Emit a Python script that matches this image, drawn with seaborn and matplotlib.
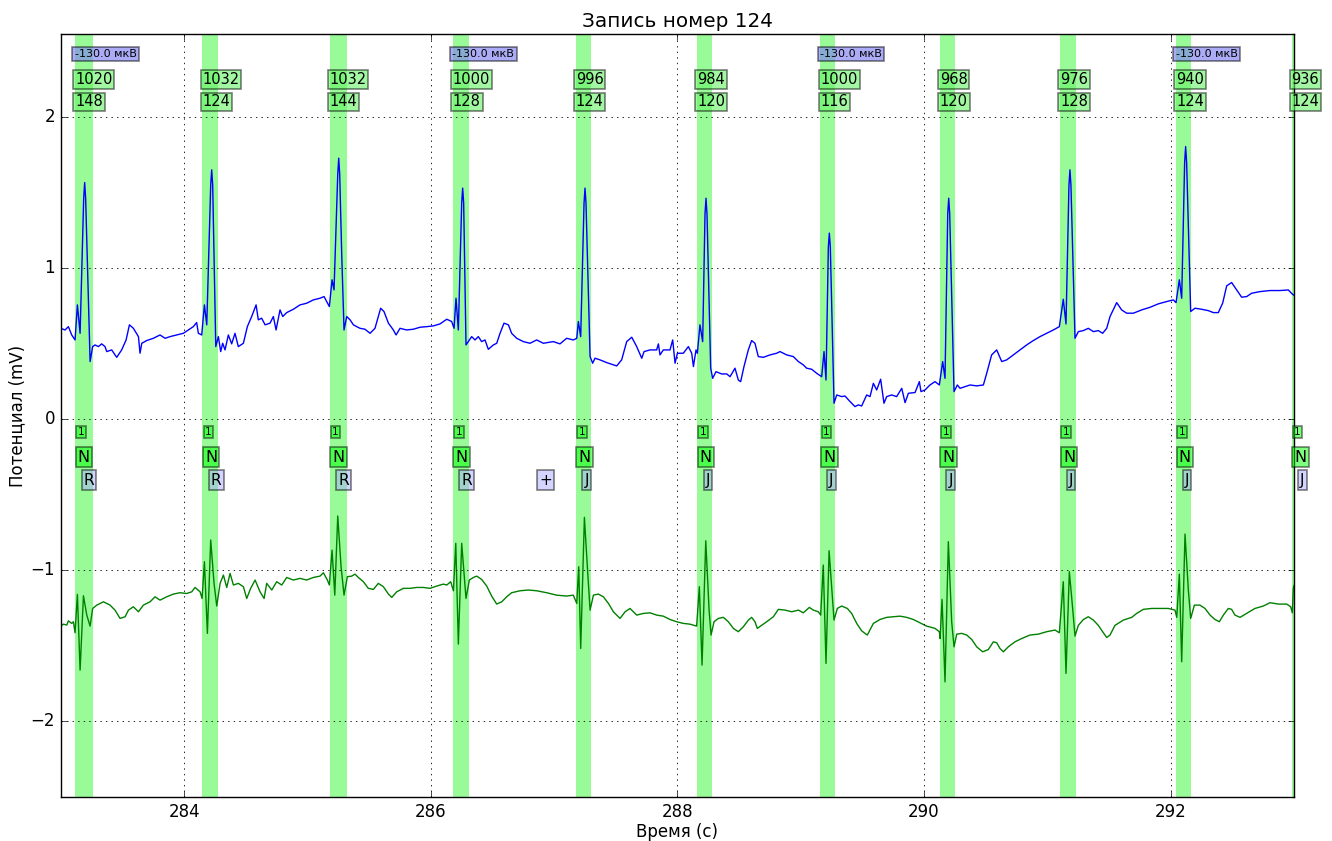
import matplotlib
matplotlib.use("Agg")
import matplotlib.pyplot as plt
import seaborn as sns
import pandas as pd

# ---- beat annotations -------------------------------------------------------
beat_onsets = [283.116, 284.148, 285.180, 286.180, 287.176, 288.160,
               289.160, 290.128, 291.104, 292.044, 292.980]
rr_ms = [1020, 1032, 1032, 1000, 996, 984, 1000, 968, 976, 940, 936]
qrs_ms = [148, 124, 144, 128, 124, 120, 116, 120, 128, 124, 124]
beat_codes = ["1"] * 11
beat_types = ["N"] * 11
rhythm_marks = ["R", "R", "R", "R", "J", "J", "J", "J", "J", "J", "J"]
amp_beats = [0, 3, 6, 9]
amp_text = "-130.0 мкВ"
extra_marks = [(286.882, "+")]

# ---- lead 1 (upper trace), seconds / mV ------------------------------------
lead1_t = [
    283.000, 283.035, 283.062, 283.089, 283.116, 283.135, 283.157, 283.194, 283.238, 283.259,
    283.278, 283.305, 283.332, 283.359, 283.373, 283.413, 283.454, 283.494, 283.530, 283.557,
    283.589, 283.630, 283.643, 283.657, 283.697, 283.751, 283.805, 283.846, 283.886, 283.940,
    283.994, 284.035, 284.075, 284.102, 284.116, 284.143, 284.165, 284.184, 284.224, 284.257,
    284.278, 284.297, 284.313, 284.332, 284.359, 284.386, 284.413, 284.440, 284.481, 284.513,
    284.548, 284.584, 284.602, 284.629, 284.657, 284.697, 284.724, 284.746, 284.778, 284.800,
    284.832, 284.886, 284.940, 284.994, 285.048, 285.102, 285.135, 285.157, 285.178, 285.200,
    285.216, 285.254, 285.278, 285.297, 285.319, 285.346, 285.373, 285.400, 285.427, 285.467,
    285.508, 285.548, 285.575, 285.594, 285.621, 285.657, 285.697, 285.719, 285.751, 285.805,
    285.859, 285.913, 285.967, 286.021, 286.075, 286.130, 286.170, 286.189, 286.205, 286.224,
    286.259, 286.286, 286.313, 286.332, 286.359, 286.386, 286.413, 286.440, 286.467, 286.508,
    286.535, 286.562, 286.594, 286.630, 286.656, 286.697, 286.751, 286.805, 286.859, 286.913,
    286.994, 287.048, 287.102, 287.156, 287.184, 287.197, 287.216, 287.251, 287.292, 287.313,
    287.332, 287.373, 287.427, 287.481, 287.508, 287.548, 287.589, 287.630, 287.670, 287.711,
    287.730, 287.778, 287.832, 287.846, 287.859, 287.886, 287.940, 287.962, 287.981, 288.000,
    288.048, 288.089, 288.116, 288.130, 288.151, 288.162, 288.183, 288.205, 288.232, 288.270,
    288.286, 288.313, 288.359, 288.400, 288.427, 288.467, 288.494, 288.513, 288.540, 288.575,
    288.602, 288.629, 288.656, 288.697, 288.751, 288.805, 288.832, 288.886, 288.940, 288.981,
    289.021, 289.048, 289.089, 289.130, 289.170, 289.189, 289.205, 289.232, 289.270, 289.292,
    289.332, 289.359, 289.400, 289.440, 289.467, 289.494, 289.535, 289.562, 289.589, 289.616,
    289.648, 289.675, 289.697, 289.738, 289.778, 289.819, 289.846, 289.873, 289.927, 289.962,
    289.975, 290.008, 290.048, 290.089, 290.124, 290.151, 290.170, 290.200, 290.243, 290.270,
    290.292, 290.332, 290.373, 290.427, 290.481, 290.508, 290.548, 290.589, 290.630, 290.670,
    290.724, 290.778, 290.832, 290.886, 290.940, 290.994, 291.048, 291.097, 291.129, 291.151,
    291.183, 291.224, 291.251, 291.292, 291.332, 291.373, 291.413, 291.448, 291.481, 291.508,
    291.562, 291.602, 291.643, 291.697, 291.765, 291.832, 291.900, 291.967, 292.021, 292.043,
    292.070, 292.089, 292.121, 292.162, 292.197, 292.251, 292.305, 292.346, 292.386, 292.421,
    292.454, 292.494, 292.535, 292.575, 292.616, 292.656, 292.724, 292.805, 292.886, 292.954,
    292.984, 293.000,
]
lead1_mv = [
    0.602, 0.591, 0.613, 0.558, 0.525, 0.757, 0.569, 1.567, 0.382, 0.481,
    0.492, 0.481, 0.499, 0.481, 0.448, 0.459, 0.410, 0.459, 0.525, 0.625,
    0.602, 0.547, 0.437, 0.503, 0.521, 0.536, 0.558, 0.536, 0.547, 0.558,
    0.569, 0.591, 0.613, 0.640, 0.569, 0.558, 0.757, 0.625, 1.651, 0.481,
    0.547, 0.448, 0.503, 0.459, 0.558, 0.499, 0.569, 0.481, 0.503, 0.613,
    0.680, 0.757, 0.658, 0.669, 0.625, 0.636, 0.680, 0.591, 0.724, 0.680,
    0.706, 0.728, 0.757, 0.768, 0.790, 0.801, 0.812, 0.779, 0.746, 0.923,
    0.856, 1.728, 1.099, 0.591, 0.680, 0.658, 0.625, 0.613, 0.602, 0.596,
    0.569, 0.602, 0.680, 0.735, 0.713, 0.636, 0.591, 0.558, 0.602, 0.591,
    0.596, 0.609, 0.613, 0.618, 0.631, 0.662, 0.647, 0.602, 0.801, 0.591,
    1.530, 0.492, 0.525, 0.547, 0.525, 0.547, 0.514, 0.525, 0.463, 0.492,
    0.503, 0.569, 0.636, 0.625, 0.569, 0.536, 0.514, 0.503, 0.525, 0.503,
    0.514, 0.499, 0.536, 0.525, 0.536, 0.647, 0.547, 1.530, 0.415, 0.371,
    0.404, 0.393, 0.375, 0.360, 0.353, 0.393, 0.514, 0.543, 0.481, 0.404,
    0.448, 0.459, 0.459, 0.499, 0.426, 0.459, 0.459, 0.525, 0.371, 0.437,
    0.437, 0.481, 0.437, 0.349, 0.459, 0.437, 0.625, 0.514, 1.463, 0.338,
    0.271, 0.315, 0.300, 0.300, 0.282, 0.338, 0.260, 0.249, 0.349, 0.459,
    0.521, 0.503, 0.415, 0.410, 0.426, 0.437, 0.448, 0.426, 0.415, 0.382,
    0.360, 0.338, 0.331, 0.304, 0.282, 0.448, 0.260, 1.232, 0.106, 0.161,
    0.150, 0.154, 0.117, 0.084, 0.095, 0.088, 0.161, 0.150, 0.238, 0.194,
    0.265, 0.106, 0.150, 0.161, 0.150, 0.205, 0.110, 0.172, 0.177, 0.249,
    0.183, 0.194, 0.227, 0.249, 0.227, 0.382, 0.271, 1.463, 0.183, 0.227,
    0.205, 0.216, 0.227, 0.221, 0.227, 0.304, 0.426, 0.459, 0.382, 0.393,
    0.426, 0.459, 0.492, 0.521, 0.547, 0.569, 0.591, 0.613, 0.794, 0.631,
    1.651, 0.536, 0.580, 0.587, 0.602, 0.580, 0.587, 0.569, 0.602, 0.680,
    0.772, 0.724, 0.702, 0.702, 0.724, 0.741, 0.764, 0.779, 0.790, 0.772,
    0.923, 0.801, 1.805, 0.713, 0.735, 0.728, 0.719, 0.706, 0.706, 0.768,
    0.883, 0.905, 0.856, 0.808, 0.812, 0.834, 0.845, 0.852, 0.852, 0.856,
    0.830, 0.820,
]
# rounded shoulders either side of each R-wave crest of lead 1
lead1_crest_t = [283.186, 283.202, 284.216, 284.232, 285.246, 285.262, 286.251, 286.267,
                 287.243, 287.259, 288.224, 288.240, 289.224, 289.240, 290.192, 290.208,
                 291.175, 291.191, 292.113, 292.129]
lead1_crest_mv = [1.46, 1.46, 1.55, 1.55, 1.62, 1.62, 1.43, 1.43,
                  1.43, 1.43, 1.36, 1.36, 1.14, 1.14, 1.36, 1.36,
                  1.55, 1.55, 1.70, 1.70]

# ---- lead 2 (lower trace), seconds / mV ------------------------------------
lead2_t = [
    283.000, 283.021, 283.049, 283.062, 283.089, 283.103, 283.116, 283.135, 283.157, 283.184,
    283.211, 283.238, 283.259, 283.292, 283.346, 283.400, 283.440, 283.481, 283.522, 283.549,
    283.589, 283.630, 283.670, 283.724, 283.765, 283.805, 283.859, 283.913, 283.967, 284.021,
    284.062, 284.089, 284.130, 284.146, 284.165, 284.189, 284.216, 284.243, 284.265, 284.292,
    284.319, 284.346, 284.373, 284.400, 284.440, 284.481, 284.508, 284.540, 284.576, 284.616,
    284.649, 284.670, 284.711, 284.751, 284.792, 284.832, 284.886, 284.940, 284.994, 285.048,
    285.102, 285.130, 285.162, 285.178, 285.200, 285.222, 285.246, 285.273, 285.297, 285.324,
    285.359, 285.386, 285.413, 285.454, 285.494, 285.535, 285.575, 285.616, 285.657, 285.684,
    285.724, 285.778, 285.832, 285.886, 285.940, 285.994, 286.048, 286.102, 286.130, 286.162,
    286.184, 286.203, 286.224, 286.251, 286.286, 286.313, 286.346, 286.373, 286.413, 286.454,
    286.494, 286.535, 286.576, 286.616, 286.656, 286.724, 286.792, 286.859, 286.940, 287.021,
    287.102, 287.156, 287.184, 287.200, 287.216, 287.246, 287.270, 287.292, 287.319, 287.359,
    287.400, 287.441, 287.481, 287.535, 287.576, 287.616, 287.670, 287.724, 287.778, 287.832,
    287.886, 287.940, 287.994, 288.048, 288.102, 288.156, 288.178, 288.200, 288.230, 288.257,
    288.273, 288.297, 288.332, 288.373, 288.413, 288.454, 288.494, 288.535, 288.576, 288.602,
    288.629, 288.648, 288.683, 288.724, 288.778, 288.819, 288.873, 288.927, 288.981, 289.021,
    289.070, 289.102, 289.143, 289.162, 289.183, 289.205, 289.230, 289.270, 289.297, 289.332,
    289.378, 289.413, 289.454, 289.494, 289.521, 289.540, 289.589, 289.643, 289.697, 289.751,
    289.805, 289.859, 289.913, 289.967, 290.021, 290.089, 290.124, 290.130, 290.146, 290.170,
    290.197, 290.224, 290.243, 290.265, 290.305, 290.346, 290.386, 290.427, 290.475, 290.521,
    290.562, 290.589, 290.616, 290.643, 290.683, 290.737, 290.792, 290.859, 290.927, 290.994,
    291.062, 291.097, 291.129, 291.151, 291.178, 291.205, 291.224, 291.251, 291.292, 291.332,
    291.373, 291.413, 291.448, 291.481, 291.508, 291.548, 291.616, 291.684, 291.724, 291.778,
    291.846, 291.913, 291.981, 292.035, 292.049, 292.070, 292.089, 292.116, 292.143, 292.162,
    292.192, 292.237, 292.278, 292.319, 292.359, 292.394, 292.427, 292.467, 292.494, 292.521,
    292.562, 292.616, 292.683, 292.751, 292.805, 292.873, 292.940, 292.973, 292.986, 292.994,
    293.000,
]
lead2_mv = [
    -1.369, -1.356, -1.362, -1.334, -1.351, -1.340, -1.413, -1.159, -1.660, -1.168,
    -1.296, -1.369, -1.252, -1.230, -1.208, -1.230, -1.263, -1.318, -1.307, -1.263,
    -1.241, -1.274, -1.230, -1.208, -1.175, -1.197, -1.175, -1.157, -1.148, -1.153,
    -1.142, -1.113, -1.142, -1.186, -0.943, -1.417, -0.799, -1.086, -1.236, -1.086,
    -1.031, -1.113, -1.020, -1.097, -1.086, -1.108, -1.186, -1.119, -1.064, -1.142,
    -1.186, -1.086, -1.130, -1.075, -1.097, -1.047, -1.064, -1.053, -1.064, -1.047,
    -1.038, -1.016, -1.064, -1.097, -0.866, -1.164, -0.640, -0.976, -1.164, -1.042,
    -1.038, -1.025, -1.047, -1.075, -1.119, -1.126, -1.086, -1.108, -1.157, -1.179,
    -1.142, -1.119, -1.119, -1.113, -1.113, -1.119, -1.104, -1.091, -1.097, -1.075,
    -1.135, -0.821, -1.488, -0.821, -1.186, -1.064, -1.047, -1.038, -1.060, -1.104,
    -1.170, -1.223, -1.208, -1.175, -1.148, -1.135, -1.130, -1.135, -1.148, -1.164,
    -1.170, -1.164, -1.219, -0.976, -1.517, -0.649, -0.976, -1.263, -1.164, -1.157,
    -1.175, -1.219, -1.274, -1.318, -1.274, -1.252, -1.296, -1.285, -1.281, -1.296,
    -1.303, -1.325, -1.340, -1.351, -1.356, -1.369, -1.108, -1.627, -0.804, -1.263,
    -1.428, -1.340, -1.318, -1.311, -1.340, -1.384, -1.406, -1.373, -1.329, -1.311,
    -1.340, -1.384, -1.364, -1.340, -1.307, -1.258, -1.263, -1.274, -1.263, -1.281,
    -1.245, -1.263, -1.274, -1.296, -0.965, -1.616, -0.870, -1.329, -1.252, -1.236,
    -1.252, -1.285, -1.351, -1.400, -1.417, -1.428, -1.351, -1.325, -1.311, -1.307,
    -1.303, -1.311, -1.325, -1.347, -1.369, -1.384, -1.406, -1.451, -1.192, -1.738,
    -0.810, -1.340, -1.506, -1.422, -1.417, -1.428, -1.457, -1.506, -1.539, -1.524,
    -1.473, -1.479, -1.517, -1.539, -1.506, -1.473, -1.451, -1.428, -1.422, -1.406,
    -1.395, -1.413, -1.075, -1.682, -1.009, -1.252, -1.435, -1.364, -1.325, -1.307,
    -1.329, -1.364, -1.406, -1.444, -1.428, -1.364, -1.329, -1.311, -1.285, -1.258,
    -1.252, -1.252, -1.252, -1.263, -1.311, -1.025, -1.605, -0.760, -1.130, -1.318,
    -1.230, -1.230, -1.252, -1.296, -1.325, -1.340, -1.296, -1.252, -1.258, -1.296,
    -1.311, -1.285, -1.252, -1.236, -1.214, -1.223, -1.223, -1.241, -1.281, -1.120,
    -1.100,
]

# ---- figure -----------------------------------------------------------------
plt.style.use("classic")
plt.rcParams["figure.facecolor"] = "white"
plt.rcParams["savefig.facecolor"] = "white"

fig = plt.figure(figsize=(13.32, 8.41), dpi=100)
ax = fig.add_axes([0.0456, 0.0523, 0.9259, 0.9073])

# QRS complexes as shaded bands
for onset, w in zip(beat_onsets, qrs_ms):
    ax.axvspan(onset, onset + w / 1000.0, color="#98fb98", lw=0, zorder=1)

df1 = pd.concat([pd.DataFrame({"t": lead1_t, "mv": lead1_mv}),
                 pd.DataFrame({"t": lead1_crest_t, "mv": lead1_crest_mv})]).sort_values("t")
df2 = pd.DataFrame({"t": lead2_t, "mv": lead2_mv})
sns.lineplot(data=df1, x="t", y="mv", ax=ax, color="b", lw=1.0,
             estimator=None, sort=False, zorder=2)
sns.lineplot(data=df2, x="t", y="mv", ax=ax, color="g", lw=1.0,
             estimator=None, sort=False, zorder=2)

ax.set_xlim(283, 293)
ax.set_ylim(-2.5, 2.55)
ax.set_xticks([284, 286, 288, 290, 292])
ax.set_yticks([-2, -1, 0, 1, 2])
ax.grid(True, color="k", linestyle=":", linewidth=0.6)
ax.set_title("Запись номер 124", fontsize=14.4)
ax.set_xlabel("Время (с)", fontsize=12, labelpad=2)
ax.set_ylabel("Потенциал (mV)", fontsize=12, labelpad=3)
ax.tick_params(labelsize=12)

edge = (0, 0, 0, 0.5)
box_rr = dict(boxstyle="square,pad=0.12", facecolor=(0.4, 0.95, 0.4, 0.6), edgecolor=edge, lw=1.2)
box_amp = dict(boxstyle="square,pad=0.2", facecolor=(0.5, 0.5, 0.95, 0.65), edgecolor=edge, lw=1.2)
box_beat = dict(boxstyle="square,pad=0.14", facecolor=(0.0, 1.0, 0.0, 0.5), edgecolor=edge, lw=1.2)
box_rhythm = dict(boxstyle="square,pad=0.14", facecolor=(0.667, 0.667, 1.0, 0.5), edgecolor=edge, lw=1.2)

for i, onset in enumerate(beat_onsets):
    ax.text(onset, 2.249, str(rr_ms[i]), fontsize=10.5, ha="left", va="center", bbox=box_rr)
    ax.text(onset, 2.101, str(qrs_ms[i]), fontsize=10.5, ha="left", va="center", bbox=box_rr)
    if i in amp_beats:
        ax.text(onset - 0.004, 2.416, amp_text, fontsize=8, ha="left", va="center", bbox=box_amp)
    ax.text(onset + 0.022, -0.084, beat_codes[i], fontsize=7.5,
            ha="left", va="center", bbox=box_beat)
    ax.text(onset + 0.022, -0.250, beat_types[i], fontsize=11.5,
            ha="left", va="center", bbox=box_beat)
    ax.text(onset + 0.070, -0.402, rhythm_marks[i], fontsize=11,
            ha="left", va="center", bbox=box_rhythm)

for xt, mark in extra_marks:
    ax.text(xt, -0.402, mark, fontsize=11, ha="left", va="center", bbox=box_rhythm)

fig.savefig("out.png", dpi=100)
